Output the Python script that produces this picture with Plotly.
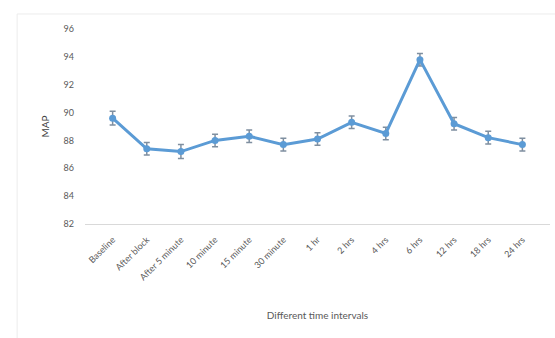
import plotly.graph_objects as go

categories = ["Baseline", "After block", "After 5 minute", "10 minute", "15 minute",
              "30 minute", "1 hr", "2 hrs", "4 hrs", "6 hrs", "12 hrs", "18 hrs", "24 hrs"]
map_values = [89.6, 87.4, 87.2, 88.0, 88.3, 87.7, 88.1, 89.3, 88.5, 93.8, 89.2, 88.2, 87.7]
map_errors = [0.5, 0.45, 0.5, 0.45, 0.45, 0.45, 0.45, 0.45, 0.45, 0.45, 0.45, 0.45, 0.45]
y_ticks = [82, 84, 86, 88, 90, 92, 94, 96]

fig = go.Figure()
fig.add_trace(go.Scatter(
    x=categories, y=map_values,
    mode="lines+markers",
    line=dict(color="#5b9bd5", width=3),
    marker=dict(color="#5b9bd5", size=7),
    error_y=dict(type="data", array=map_errors, visible=True,
                 color="#7f8fa0", thickness=1.5, width=3),
    showlegend=False,
))

font_fam = "Lato, 'Open Sans', sans-serif"
fig.update_layout(
    width=555, height=338,
    margin=dict(l=85, r=5, t=29, b=114),
    paper_bgcolor="white", plot_bgcolor="white",
    font=dict(family=font_fam, size=9, color="#595959"),
    xaxis=dict(
        tickangle=-45, showgrid=False, showline=True, linecolor="#d9d9d9",
        linewidth=1, ticks="", tickfont=dict(size=9, color="#595959"),
        ticklabelstandoff=6,
        title=dict(text="Different time intervals", font=dict(size=10, color="#595959"), standoff=30),
    ),
    yaxis=dict(
        range=[82, 96], tickvals=y_ticks, showgrid=False, zeroline=False,
        showline=False, ticks="", tickfont=dict(size=9, color="#595959"),
        ticklabelstandoff=10,
        title=dict(text="MAP", font=dict(size=10, color="#404040"), standoff=12),
    ),
)
fig.add_shape(type="rect", xref="paper", yref="paper",
              x0=-0.146, x1=1.2, y0=-0.9, y1=1.077,
              line=dict(color="#ececec", width=1))
fig.write_html("out.html")
